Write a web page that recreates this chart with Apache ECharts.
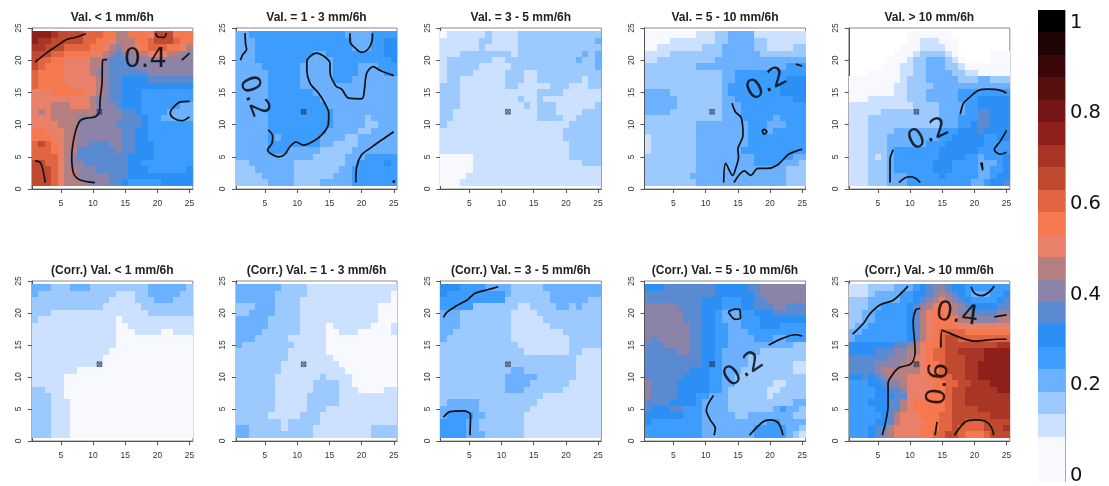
<!DOCTYPE html>
<html><head><meta charset="utf-8">
<style>html,body{margin:0;padding:0;background:#fff}
#wrap{position:relative;width:1109px;height:486px;overflow:hidden}
#c{position:absolute;left:0;top:0;width:1030px;height:486px;filter:blur(0.45px)}
#k{position:absolute;left:1030px;top:0;width:79px;height:486px}</style>
<script src="https://cdn.jsdelivr.net/npm/echarts@6/dist/echarts.min.js"></script>
</head><body><div id="wrap"><div id="c"></div><div id="k"></div></div>
<script>
// Colour classes, bottom (0) to top (20) of the key: each class is 1/21 wide
const palette = ['#f7f9ff','#f7f9ff','#cce0ff','#9ccaff','#6bb1ff','#3c9dff','#2b8ff5','#5a8ad0','#8b84a8','#b37f80','#e8806a','#f5784f','#e06540','#c04a30','#a83526','#8e1f1a','#751515','#550f0f','#3a0808','#1e0404','#000000'];
const keyTicks = [0,0.2,0.4,0.6,0.8,1];
const xTicks = [5,10,15,20,25];
const titles = ['Val. < 1 mm/6h','Val. = 1 - 3 mm/6h','Val. = 3 - 5 mm/6h','Val. = 5 - 10 mm/6h','Val. > 10 mm/6h','(Corr.) Val. < 1 mm/6h','(Corr.) Val. = 1 - 3 mm/6h','(Corr.) Val. = 3 - 5 mm/6h','(Corr.) Val. = 5 - 10 mm/6h','(Corr.) Val. > 10 mm/6h'];
const centrePoint = [11,12];

// Cell classes (base 36) for rows y = 24 ... 1, columns x = 1 ... 25; '.' = no value (white)
const cellsA = [
"fff e dddd ccc bb 99 bbb a ddd bbb",
"f ee ddddd cc bb a 999 bb c ddd c bb",
"ee ddd cccc bb a 9 8 99 a b ccc bb a 9",
"ddd cc bbbb aa 9 8 7 88 99 aaa 99 88",
"d cc bb aaaa 99 8 777 8888888888",
"d c bbb aaaa 99 8 7777 888888888",
"c bbbb aaaa 9 88 777777 8888888",
"c bbbb aaaaa 9 8 77 6666 7777777",
"c bbbbb aaaa 9 8 77 66666666666",
"aaa bbbbb aa 9 8 77 666 55555555",
"aaaaaaaaa 9 88 77 666 55555555",
"aaa 999 aaa 9 888 7 666 555555 44",
"a 9 a 9999999 8888 77 6 5555 4444",
"aaa 9999 8888888 777 6 55 44444",
"aaaa 999 888888 7777 6 5555555",
"bb aaa 99 8888888 77 66 5555555",
"bbb aa 99 8888888 77 66 5555555",
"c d c b a 99 88 777 88 77 666 555555",
"ccc b a 99 777777 8 77 666 555555",
"cccc a 9 8 77777777 6666 555555",
"dd cc a 9 88 7777777 66 55555555",
"ddd c a 99 888 77777 666 555555 6",
"ddd c a 99 88888 777 6666666666",
"ddd c a 999 8888 77 6 55555 66666"];
const cellsB = [
"44 555555555555555 4444 5555",
"444 555555555555555 444 55 66",
"444 555555555555555 444 55 66",
"444 555555555 44 555555555 66",
"444 55555555 4444 555555555 6",
"4444 555555 44444 5555 444 555",
"44444 55555 44444 5555 4444 55",
"44444 55555 44444 555 4444444",
"44444 55555 444444444444444",
"44444 5555555 4444444444444",
"44444 55555555 444444444444",
"44444 555555555 44444444444",
"44444 5555555555 4444444444",
"44444 5555555555 44444 3 4444",
"44444 5555555555 44444 33 444",
"44444 555555555 44444 33 4444",
"44444 5 4 555555 4444 33 444444",
"44444 555 55555 44 3333 444444",
"44444 555 44444 33333 4444444",
"444444444444 33333 444 55555",
"33 4444444 33333333 44 5555 6 5",
"333 444444 3333333 44 5555555",
"3333 44444 333333 444 5555555",
"33333 4444 3333 44444 5555555"];
const cellsC = [
"0 222222 3 2222 3333333333333",
"222222 33 2222 333333333333 4",
"222222 3 22222 3333333333333",
"222 33333333 2 3333333333 4 3 4",
"2 3333333 22 33333333333 4 33 4",
"2 33333 22222 3333333333333 4",
"2 3333 22222 333 22 3333333333",
"2 33 2222222 333 22 3333333 2 33",
"333 2222222 33 22222 333 222 33",
"333 222222222222 3333 222222",
"333 222222222 3 22 3 222222222",
"333 2222222222 3 2 333 222222 3",
"33 2222222222222 333 2222 333",
"33 2222222222222 3333 22 3333",
"3 2222222222222222222 33333",
"2222222222222222222 333333",
"2222222222222222222 333333",
"22222222222222222222 33333",
"22222222222222222222 33333",
"00000 222222222222222 33333",
"00000 22222222222222222 333",
"00000 22222222222222222222",
"0000 222222222222222222222",
"000 2222222222222222222222"];
const cellsD = [
"00000000 222 33 4444 22222222",
"0000 2222222 33 4444 33 222222",
"00 2222222 333 44444 33 2222 33",
"2222 33333333 444444 3333333",
"22 333333333 44444444444444",
"33333333 44444444444444 555",
"333333333333 44 55555555555",
"333333333333 44 55555555 666",
"333333333333 4 55555555 6666",
"4444 33333333 4 55555555 6666",
"44444 3333333 44 555555555 66",
"44444 3333333 444 5555555555",
"4444 33333333 444 5555555555",
"333333333333 444 55555 4 5555",
"33333333 44444444 555 444 555",
"33333333 44444444 555 4 55555",
"2 3333333 44444444 555555555",
"2 3333333 44444444 555555555",
"2 3333333 4444444 5555555555",
"33333333 444444444 555555 44",
"33333333 444444444 5555 444 3",
"33333333 44444444444444 333",
"3333333 4 44444444444444 333",
"33333333 44444444444444 333"];
const cellsE = [
"......... 0000000 .........",
"......... 00 222 000 ........",
"........ 000 2222 00 ........",
"....... 000 2 3333 2 0 ..... 000",
"...... 000 2 33 444 3 2 0 .... 000",
"..... 000 22 33 444 33 2 0000000",
"... 00000 22 33 4444 33 22 00000",
"00000000 2 333 44444 333 44 333",
"0000000 22 3333 444444 444444",
"0000000 22 333 44444 55555555",
"000 222222 333 44444 555 66666",
"2222222222 3333 4444 55 66666",
"22222 33333 3333 4444 5 5 77 666",
"222 33333333333 444 555 77 666",
"222 33333333333 444 55 6 77 666",
"222 3333 4444444 555 666 7 6666",
"222 333 4 4444444 55 66666 5566",
"222 333 444 444 555 666666 5555",
"222 333 4 5555555 666666 55555",
"222 3 2 3 4 5555555 6666 55 4 555 6",
"222 333 4 555555 666 5555 44 4 5 6",
"222 333 4 555555 666 5555 44 55 6",
"222 333 444 55555 6 55555 44 5 66",
"222 333 444 5555555555 44 5 6 6 7"];
const cellsF = [
"444 333 444 333333333 444444 3",
"4 333333333333 222 33 44444 33",
"333333333333 2222 33 3 444 333",
"33333333333 222222 33333333",
"333 222222222222222 3333333",
"3 222222222222 0 22222222222",
"2222222222222 00 2222222222",
"2222222222222 000 2222 00 222",
"2222222222222 000000000000",
"2222222222222 000000000000",
"222222222222 0000000000000",
"22222222222 00000000000000",
"22222222222 00000000000000",
"2222222 000000000000000000",
"22222 00000000000000000000",
"22222 00000000000000000000",
"33 222 00000000000000000000",
"333 22 00000000000000000000",
"333 222 0000000000000000000",
"333 222 0000000000000000000",
"333 222 0000000000000000000",
"333 222 0000000000000000000",
"333 222 0000000000000000000",
"333 222 0000000000000000000"];
const cellsG = [
"4444444 3333 22222222222222",
"444444 33333 2222222222222 0",
"444444 3333 22222222222222 0",
"333 444 3333 222222222222 000",
"33 4444 3333 222222222222 000",
"44444 33333 222222222222 000",
"44444 33333 2222 0 222222 000 2",
"4444 333333 2222 00 222 00000 2",
"444 33333 222222 00000000000",
"4 33333333 22222 00000000000",
"33333333 222222 00000000000",
"33333333 2222222 0000000000",
"3333333 222222222 000000000",
"3333333 2222222222 00000000",
"333333 2222222 3 2222 0000000",
"333333 222222 3333 22 0000000",
"333333 222222 3333 222 0000 22",
"333333 22222 33333 222222222",
"333333 22222 33333 222222222",
"333333 22222 333 22222222222",
"33333 22222 333 222222222222",
"3333333 2 33333 222222222222",
"44 33333 2 3333 222222222 3333",
"44 333333 3333 222222222 3333"];
const cellsH = [
"666 5555 4444 33333 444444444",
"6 555555555 4 333333 44444444",
"5555555555 3333333 444444 33",
"55555 3333333 22 333 3 44 3 4 333",
"444 33333333 2222 3333333333",
"444 33333333 22222 333333333",
"444 33333333 222222 33333333",
"44 333333333 22222222 333333",
"4 3333333333 222222222 33333",
"333333333333 22222222 33333",
"3333333333333 2222222 33 222",
"333333333333333333333 2222",
"333333333333333333333 2222",
"33333333333 44 33333333 2222",
"3333333333 44444 333333 2222",
"3333333333 4444 333333 22222",
"3333333333 444 333333 222222",
"3333333333333333 222222222",
"3 44444 333333333 2222222222",
"444444 33333333 22222222222",
"4 5555 44 333333 222222222222",
"5555 44 3333333 222222222222",
"5555 44 3333333 222222222222",
"5555 444 333333 222222222222"];
const cellsI = [
"666 77777777 66666 77 8888888",
"77777777777 666666 7 8888888",
"777777777 666 555 66 77 888888",
"88888 7777 666 555 66 777 88 777",
"888888 777 66 5 444 55 666 77777",
"888888 777 66 5 444 555 6666666",
"8888888 77 66 55 44 555 666 5555",
"8888888 77 66 55 444 55 5555555",
"8 7 88888 77 66 55 4444 555 44 555",
"777 8888 77 66 55 44444444 44 33",
"77777 88 77 66 5 444 44 4 3333333",
"777777777 66 5 4444 333333333",
"777777777 66 5 4444 3333333 22",
"7777777 666 55 444 33333333 22",
"777777 6666 55 44 33333333333",
"8 7777 66666 55 44 333333 22 333",
"8 7777 66666 55 4 333333 22 3333",
"8 7777 666 55 444 333333 2 33333",
"7777 6666 5 4444 3333333333 44",
"7 666 77 555 4444 3333333 4 5 44 3",
"666666 555 44444 33 4444444 33",
"6 55555555 4444444 444 55 4444",
"555555555 44444444 55555 44 3",
"555555555 44444444 55555 4 3 2"];
const cellsJ = [
"222 3333 4 44 5 6 7 8 8 7 6 6 5555555",
"222 3 4444 55 66 7 8 9 8 7 6 5 444 55 6",
"333 44444 55 6 7 8 9 a 9 8 7 6 5555 6 7",
"333 44 5555 6 7 8 9 a b a 9 8 7 6666 77",
"33 44 55555 6 7 9 a bb a 9 88 7777 88",
"33 44 55555 6 7 9 a bbb a 99 8888 99",
"3 44 555555 6 7 9 a bbbb aaaaaaaa",
"44 5555555 6 7 9 a b cc cc bbbbbbb",
"4 55555555 6 7 9 a b c dd cccccccc",
"6666666 77 8 9 a bb c dddddddd ee",
"6666 777 88 99 a b cc dd eeee ffff",
"777777 888 9 aa b cc ddd eee ffff",
"7777 8888 999 a bb c ddd ee fffff",
"7777 8 999999 aa b c ddd ee fffff",
"66 7 6 7 8 999 aaa bb cc dd ee fffff",
"555 66 7 88 9 aaaa bb cc dd eee fff",
"5555 66 77 8 aaaa bb c dd eeeee ff",
"5555 666 77 aaa bbb c dd eeeeeee",
"555 666 77 9 a bbbbb c dd eeeeeee",
"5555 66 77 9 a bbbbb c dddd eeeee",
"55555 6 7 9 aaa bbb cc dddddd eee",
"5555 66 7 9 aaaa bb cc dd ccc dddd",
"555 6 77 9 aaaa bbb cc d cccc ddd e",
"555 6 7 8 9 aaaa bb cc dd c bbb c ddd"];
const panelCells = [cellsA,cellsB,cellsC,cellsD,cellsE,cellsF,cellsG,cellsH,cellsI,cellsJ];

// Contour lines (value 0.2 / 0.4 / 0.6) in data units
const linesA = [
 [[1,19.7],[2,20.5],[3,21.3],[4.5,22.3],[5.9,23.2],[7.5,23.6],[8.9,24.1]],
 [[12.2,20.1],[11.5,20],[11.4,16.4],[11.1,13.8],[11,12],[10.3,11.2],[9,11],[8,10.6],[7.2,8.6],[6.7,5],[7,2.4],[8,1.4],[10.3,1]],
 [[1,4.4],[1.9,4],[2.6,1]],
 [[19.7,24.2],[20.1,23.6],[21,23.55],[21.4,24.2]],
 [[23.8,20],[25,21.1]],
 [[25,13.6],[23.5,13.5],[22.5,12.7],[22,11.8],[22.5,11],[23.8,10.6],[25,11.2]]];
const linesB = [
 [[1.9,24.2],[2,22.4],[2.15,21.7],[1.5,20.8],[1.2,20]],
 [[5.5,9.2],[6.2,8.2],[6.1,7.1],[5.4,6.1],[7.1,5],[8,5.3],[8.9,6.6],[9.8,7.3],[11,6.8],[12.5,7.4],[13.8,8.4],[14.8,9.9],[14.9,11.8],[14.3,13.3],[13.3,14.9],[12,16.4],[11.5,18.5],[11.5,19.8],[12,20.6],[13,21.1],[14.3,20.5],[15.1,19.5],[15.1,18.2],[16,16],[16.9,15.5],[18,14.1],[20,14],[20.8,18],[21.8,19],[22.9,18.4],[25,17.6]],
 [[18.2,24.2],[18.2,22.9],[19,21.9],[20,21.2],[21,21.7],[21.6,22.9],[21.7,24.2]],
 [[19.1,1],[19.25,3.5],[20,5.3],[21.3,6.3],[23.1,7.6],[25,8.9]],
 [[25,1.3],[25.1,1.1],[24.9,1.05],[25,1.3]]];
const linesC = [];
const linesD = [
 [[14.1,13.3],[14.6,12],[15.5,11.1],[15.8,8.4],[15,6.1],[15.1,5],[14.6,3],[14.2,2.1],[13.1,4],[12.8,1]],
 [[14.4,1],[16,2.8],[17,2.1],[18.1,3.2],[19.5,3.2],[21.1,3.7],[22.9,5.4],[25,6.2]],
 [[19,9.3],[19.5,8.9],[19.1,8.5],[18.8,9],[19,9.3]],
 [[24,19.4],[25,19.1]]];
const linesE = [
 [[17.8,11.6],[18.3,13.3],[19.1,14.1],[20.6,15.3],[22.2,15.5],[23.8,15.4],[25,14.9]],
 [[7.4,6.1],[6.9,4.5],[6.9,1]],
 [[8.3,1],[9.2,1.7],[10,1.9],[10.8,1.7],[11.6,1]],
 [[25,9.1],[24,7.4],[23.1,6.1],[24,5.4],[25,5.7]],
 [[21.2,4.1],[21.3,2.9],[21,4.1]]];
const linesF = [];
const linesG = [];
const linesH = [
 [[1,19.3],[1.5,20.1],[2.8,21],[4.6,22],[5.9,23.1],[7.7,23.6],[9.5,24.1]],
 [[1,3.7],[2,4.6],[4.1,4.7],[5.2,4.1],[5.1,0.9]]];
const linesI = [
 [[13.5,20.2],[14.6,20.6],[15.3,20.5],[15.4,19.2],[14.6,19],[13.5,20.2]],
 [[19.8,15],[21.8,16],[23.9,16.6],[25,16.4]],
 [[11.2,7.1],[10.1,4.8],[10.7,3.3],[11.5,2],[11.3,0.9]],
 [[16.8,0.9],[18.9,3],[20,3.3],[21.3,2.8],[22,0.9]]];
const linesJ = [
 [[1.1,16.7],[2.8,18.4],[3.8,19.9],[5.4,21.3],[7.4,22],[9.7,24.2]],
 [[19.5,24.1],[20,23.1],[21.1,22.7],[22.2,23.2],[23.1,24.2]],
 [[11.6,20.7],[10.9,20.5],[10.5,18.6],[10.8,14],[10.2,12.1],[8.2,11.4],[6.9,9.8],[6.6,9],[6.6,5.6],[5.7,0.9]],
 [[23.1,19.4],[25,19.7]],
 [[14.8,14.6],[15,17.3],[20,15.6],[23.8,15.9],[25,15.9]],
 [[14.2,3],[13.9,0.9]],
 [[16.9,0.9],[18.6,3],[20.1,3.3],[21.7,3.1],[22.6,2.2],[23,0.9]]];
const panelLines = [linesA,linesB,linesC,linesD,linesE,linesF,linesG,linesH,linesI,linesJ];

// Contour labels: panel index, x, y, text, rotation
const lineLabels = [
 [0,18.1,20,'0.4',0],
 [1,3.2,14.3,'0.2',-69],
 [3,19.5,16.2,'0.2',28],
 [4,12.9,8.4,'0.2',26],
 [8,15.9,11.1,'0.2',34],
 [9,17.3,19.7,'0.4',-8],
 [9,14.5,8.9,'0.6',85]];

const gridLefts = [31.8,236,440.3,644.5,848.8];
const rowTops = [28,281];
const rowHeights = [161,160];
const titleTops = [12,265];
const axisColor = '#555', textColor = '#333';

const grid=[],xAxis=[],yAxis=[],series=[],title=[];
for(let p=0;p<10;p++){
  const col=p%5,row=p<5?0:1;
  grid.push({left:gridLefts[col],top:rowTops[row],width:161,height:rowHeights[row],show:true,borderColor:'#8a8a8a',borderWidth:1,backgroundColor:'transparent'});
  xAxis.push({type:'value',gridIndex:p,min:0.5,max:25.5,position:'bottom',splitLine:{show:false},
    axisLine:{show:true,onZero:false,lineStyle:{color:axisColor,width:1}},
    axisTick:{show:true,length:4,customValues:xTicks,lineStyle:{color:axisColor}},
    axisLabel:{show:true,customValues:xTicks,margin:10,fontSize:8.5,fontFamily:'"Liberation Sans",Arial,sans-serif',color:textColor}});
  yAxis.push({type:'value',gridIndex:p,min:0,max:25,interval:5,position:'left',splitLine:{show:false},
    axisLine:{show:true,onZero:false,lineStyle:{color:axisColor,width:1}},
    axisTick:{show:true,length:4,lineStyle:{color:axisColor}},
    axisLabel:{show:true,rotate:90,margin:13,fontSize:8.5,fontFamily:'"Liberation Sans",Arial,sans-serif',color:textColor,align:'center',verticalAlign:'middle'}});
  title.push({text:titles[p],left:gridLefts[col]+80.5,top:titleTops[row],padding:0,textAlign:'center',
    textStyle:{fontSize:12,fontWeight:'bold',fontFamily:'"Liberation Sans",Arial,sans-serif',color:'#222'}});
  const cells=[];
  panelCells[p].forEach((r,i)=>{
    const s=r.replace(/ /g,'');
    if(s.length!==25) throw new Error('panel '+p+' row '+i+' has '+s.length+' cells');
    for(let c=0;c<25;c++){
      if(s[c]==='.') continue;
      const lvl=parseInt(s[c],36);
      cells.push([c+1,24-i,(lvl+0.5)/21,lvl]);
    }
  });
  series.push({type:'custom',xAxisIndex:p,yAxisIndex:p,data:cells,z:1,silent:true,clip:false,encode:{x:0,y:1},
    renderItem:(params,api)=>{
      const x=api.value(0),y=api.value(1),a=api.coord([x-0.5,y+0.5]),b=api.coord([x+0.5,y-0.5]);
      const x0=Math.round(a[0]),y0=Math.round(a[1]);
      return {type:'rect',shape:{x:x0,y:y0,width:Math.round(b[0])-x0,height:Math.round(b[1])-y0},style:{fill:palette[api.value(3)]}};
    }});
  panelLines[p].forEach(l=>series.push({type:'line',xAxisIndex:p,yAxisIndex:p,data:l,smooth:0.3,symbol:'none',z:3,silent:true,
    lineStyle:{color:'#111',width:1.7}}));
  series.push({type:'scatter',xAxisIndex:p,yAxisIndex:p,data:[centrePoint],symbol:'path://M0 0H10V10H0ZM1 2V8L4 5ZM2 1L5 4L8 1ZM9 2L6 5L9 8ZM2 9H8L5 6Z',symbolSize:5,z:4,silent:true,
    itemStyle:{color:'#2a3448',borderColor:'#2a3448',borderWidth:0.3}});
  lineLabels.filter(t=>t[0]===p).forEach(t=>series.push({type:'scatter',xAxisIndex:p,yAxisIndex:p,data:[[t[1],t[2]]],symbolSize:1,z:5,silent:true,
    itemStyle:{color:'transparent'},labelLayout:{hideOverlap:false},
    label:{show:true,position:'inside',formatter:t[3],rotate:t[4],fontSize:27,fontFamily:'"DejaVu Sans",sans-serif',color:'#000'}}));
}
const chart=echarts.init(document.getElementById('c'),null,{renderer:'canvas'});
chart.setOption({animation:false,backgroundColor:'#fff',title,grid,xAxis,yAxis,series});

// Colour key
const keyMin=-0.0125,keyMax=1.028;
const keyCells=palette.map((c,i)=>[0,keyMin+(keyMax-keyMin)*i/21,keyMin+(keyMax-keyMin)*(i+1)/21,i]);
const key=echarts.init(document.getElementById('k'),null,{renderer:'canvas'});
key.setOption({animation:false,backgroundColor:'#fff',
  grid:{left:8,top:10,width:27,height:475},
  xAxis:{type:'value',min:0,max:1,show:false},
  yAxis:{type:'value',min:keyMin,max:keyMax,position:'right',splitLine:{show:false},
    axisLine:{show:true,onZero:false,lineStyle:{color:'#aaa',width:1}},
    axisTick:{show:true,length:1,customValues:keyTicks,lineStyle:{color:'#aaa'}},
    axisLabel:{show:true,customValues:keyTicks,margin:5,fontSize:19.5,fontFamily:'"DejaVu Sans",sans-serif',color:'#111',formatter:v=>String(+v.toFixed(1))}},
  series:[{type:'custom',data:keyCells,z:1,silent:true,encode:{x:0,y:[1,2]},
    renderItem:(params,api)=>{
      const a=api.coord([0,api.value(2)]),b=api.coord([1,api.value(1)]);
      const y0=Math.round(a[1]);
      return {type:'rect',shape:{x:a[0],y:y0,width:b[0]-a[0],height:Math.round(b[1])-y0},style:{fill:palette[api.value(3)]}};
    }}]});
</script></body></html>
